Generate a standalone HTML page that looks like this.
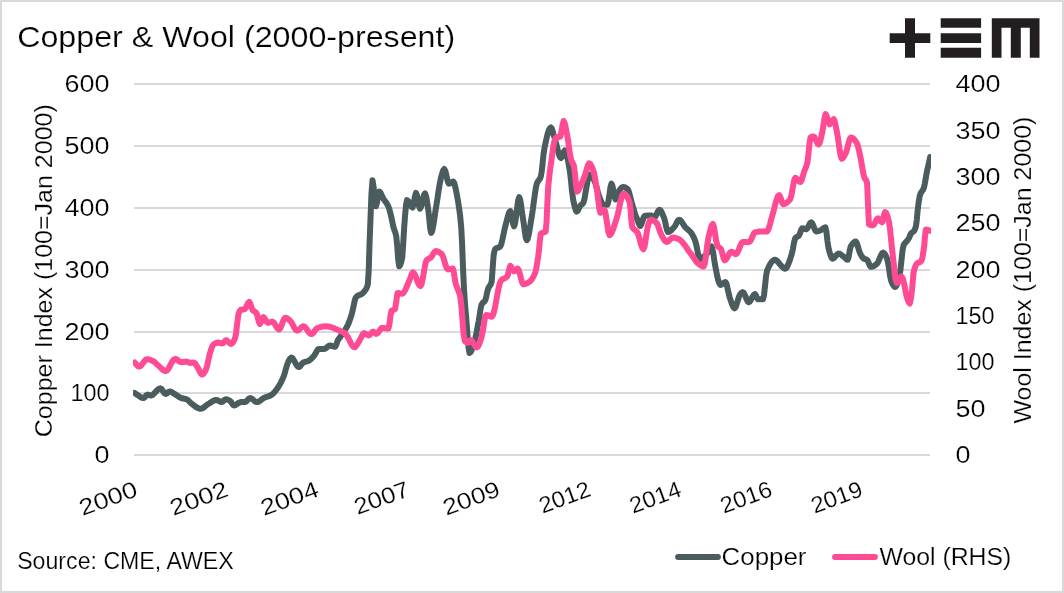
<!DOCTYPE html>
<html><head><meta charset="utf-8"><style>
html,body{margin:0;padding:0;background:#fff;}
svg{display:block;will-change:transform;}
text{font-family:"Liberation Sans", sans-serif;fill:#000;stroke:#fff;stroke-width:0.2px;}
.ax{font-size:23px;}
.title{font-size:29.5px;}
</style></head><body>
<svg width="1064" height="593" viewBox="0 0 1064 593">
<rect x="1" y="1" width="1062" height="591" fill="#fff" stroke="#d9d9d9" stroke-width="2"/>
<line x1="134" x2="930" y1="84.0" y2="84.0" stroke="#d9d9d9" stroke-width="2"/>
<line x1="134" x2="930" y1="146.0" y2="146.0" stroke="#d9d9d9" stroke-width="2"/>
<line x1="134" x2="930" y1="208.0" y2="208.0" stroke="#d9d9d9" stroke-width="2"/>
<line x1="134" x2="930" y1="270.0" y2="270.0" stroke="#d9d9d9" stroke-width="2"/>
<line x1="134" x2="930" y1="332.0" y2="332.0" stroke="#d9d9d9" stroke-width="2"/>
<line x1="134" x2="930" y1="393.0" y2="393.0" stroke="#d9d9d9" stroke-width="2"/>
<line x1="134" x2="930" y1="455.0" y2="455.0" stroke="#d9d9d9" stroke-width="2"/>
<text x="109.4" y="92.2" text-anchor="end" textLength="45.0" lengthAdjust="spacingAndGlyphs" class="ax">600</text>
<text x="109.4" y="154.2" text-anchor="end" textLength="45.0" lengthAdjust="spacingAndGlyphs" class="ax">500</text>
<text x="109.4" y="216.2" text-anchor="end" textLength="45.0" lengthAdjust="spacingAndGlyphs" class="ax">400</text>
<text x="109.4" y="278.2" text-anchor="end" textLength="45.0" lengthAdjust="spacingAndGlyphs" class="ax">300</text>
<text x="109.4" y="340.2" text-anchor="end" textLength="45.0" lengthAdjust="spacingAndGlyphs" class="ax">200</text>
<text x="109.4" y="401.2" text-anchor="end" textLength="39.0" lengthAdjust="spacingAndGlyphs" class="ax">100</text>
<text x="109.4" y="463.2" text-anchor="end" textLength="15.0" lengthAdjust="spacingAndGlyphs" class="ax">0</text>
<text x="955.4" y="92.2" textLength="45.0" lengthAdjust="spacingAndGlyphs" class="ax">400</text>
<text x="955.4" y="138.6" textLength="45.0" lengthAdjust="spacingAndGlyphs" class="ax">350</text>
<text x="955.4" y="184.9" textLength="45.0" lengthAdjust="spacingAndGlyphs" class="ax">300</text>
<text x="955.4" y="231.3" textLength="45.0" lengthAdjust="spacingAndGlyphs" class="ax">250</text>
<text x="955.4" y="277.7" textLength="45.0" lengthAdjust="spacingAndGlyphs" class="ax">200</text>
<text x="955.4" y="324.1" textLength="39.0" lengthAdjust="spacingAndGlyphs" class="ax">150</text>
<text x="955.4" y="370.4" textLength="39.0" lengthAdjust="spacingAndGlyphs" class="ax">100</text>
<text x="955.4" y="416.8" textLength="30.0" lengthAdjust="spacingAndGlyphs" class="ax">50</text>
<text x="955.4" y="463.2" textLength="15.0" lengthAdjust="spacingAndGlyphs" class="ax">0</text>
<text transform="translate(139.0,495.5) rotate(-20)" text-anchor="end" textLength="60.0" lengthAdjust="spacingAndGlyphs" class="ax">2000</text>
<text transform="translate(229.7,495.5) rotate(-20)" text-anchor="end" textLength="60.0" lengthAdjust="spacingAndGlyphs" class="ax">2002</text>
<text transform="translate(320.3,495.5) rotate(-20)" text-anchor="end" textLength="60.0" lengthAdjust="spacingAndGlyphs" class="ax">2004</text>
<text transform="translate(411.0,495.5) rotate(-20)" text-anchor="end" textLength="57.0" lengthAdjust="spacingAndGlyphs" class="ax">2007</text>
<text transform="translate(501.6,495.5) rotate(-20)" text-anchor="end" textLength="59.0" lengthAdjust="spacingAndGlyphs" class="ax">2009</text>
<text transform="translate(592.2,495.5) rotate(-20)" text-anchor="end" textLength="53.0" lengthAdjust="spacingAndGlyphs" class="ax">2012</text>
<text transform="translate(682.9,495.5) rotate(-20)" text-anchor="end" textLength="53.0" lengthAdjust="spacingAndGlyphs" class="ax">2014</text>
<text transform="translate(773.6,495.5) rotate(-20)" text-anchor="end" textLength="53.0" lengthAdjust="spacingAndGlyphs" class="ax">2016</text>
<text transform="translate(864.2,495.5) rotate(-20)" text-anchor="end" textLength="53.0" lengthAdjust="spacingAndGlyphs" class="ax">2019</text>
<text transform="translate(51.8,270.7) rotate(-90)" text-anchor="middle" textLength="333" lengthAdjust="spacingAndGlyphs" class="ax">Copper Index (100=Jan 2000)</text>
<text transform="translate(1031,270.1) rotate(-90)" text-anchor="middle" textLength="307" lengthAdjust="spacingAndGlyphs" class="ax">Wool Index (100=Jan 2000)</text>
<text x="17.2" y="46.6" textLength="438" lengthAdjust="spacingAndGlyphs" class="title">Copper &amp; Wool (2000-present)</text>
<text x="17.2" y="568.8" textLength="216.5" lengthAdjust="spacingAndGlyphs" class="ax">Source: CME, AWEX</text>
<line x1="678" x2="718" y1="557" y2="557" stroke="#4a5c5e" stroke-width="5.8" stroke-linecap="round"/>
<text x="721.5" y="564.6" textLength="85" lengthAdjust="spacingAndGlyphs" class="ax">Copper</text>
<line x1="835" x2="875" y1="557" y2="557" stroke="#ff4a94" stroke-width="5.8" stroke-linecap="round"/>
<text x="879.4" y="564.6" textLength="132" lengthAdjust="spacingAndGlyphs" class="ax">Wool (RHS)</text>
<defs><clipPath id="pc"><rect x="133" y="60" width="798" height="420"/></clipPath></defs><g clip-path="url(#pc)">
<polyline fill="none" stroke="#4a5c5e" stroke-width="6" stroke-linejoin="round" stroke-linecap="round" points="134.6,393.0 135.7,393.7 136.8,394.5 137.9,395.3 139.1,396.1 140.2,396.9 141.3,397.5 142.4,397.9 143.5,398.0 144.5,397.5 145.5,396.3 146.5,395.1 147.5,394.6 148.6,394.8 149.8,395.3 150.9,395.5 152.1,395.2 153.2,394.4 154.4,393.2 155.6,391.9 156.8,390.6 158.0,389.4 159.1,388.6 160.3,388.3 161.4,388.9 162.5,390.3 163.5,391.9 164.6,393.3 165.7,393.9 166.7,393.5 167.8,392.7 168.8,391.9 169.8,391.5 171.0,391.8 172.2,392.4 173.3,393.2 174.5,393.9 175.6,394.6 176.7,395.3 177.8,396.1 179.0,396.9 180.1,397.5 181.2,398.0 182.3,398.3 183.4,398.5 184.4,398.7 185.5,399.0 186.6,399.3 187.7,399.9 188.8,400.9 189.8,402.0 190.9,403.1 192.0,404.0 193.1,404.8 194.2,405.6 195.2,406.4 196.3,407.1 197.4,407.8 198.4,408.3 199.5,408.7 200.6,408.8 201.7,408.6 202.8,408.1 203.9,407.4 204.9,406.5 206.0,405.6 207.1,404.7 208.2,404.0 209.4,403.3 210.5,402.6 211.7,401.8 212.8,401.1 214.0,400.5 215.1,400.1 216.3,400.0 217.4,400.2 218.5,400.7 219.5,401.3 220.6,401.8 221.7,402.0 222.7,401.6 223.7,400.6 224.7,399.7 225.7,399.3 226.8,399.4 227.8,399.8 228.9,400.2 230.0,400.8 231.0,401.8 232.0,403.4 233.0,404.9 234.0,405.5 235.1,405.2 236.3,404.6 237.4,403.8 238.5,403.0 239.7,402.4 240.8,402.1 241.8,402.1 242.8,402.1 243.8,402.1 244.8,402.1 245.9,401.7 247.0,400.7 248.0,399.5 249.1,398.5 250.2,398.1 251.3,398.4 252.5,399.1 253.6,400.1 254.7,401.1 255.9,401.8 257.0,402.1 258.1,401.9 259.2,401.3 260.4,400.5 261.5,399.6 262.6,398.8 263.7,398.1 264.9,397.6 266.0,397.1 267.2,396.7 268.3,396.3 269.5,395.9 270.6,395.4 271.8,394.7 272.9,393.8 274.0,392.7 275.1,391.4 276.3,389.9 277.4,388.3 278.5,386.6 279.6,384.9 280.7,382.9 281.7,380.8 282.8,378.4 283.9,375.8 284.9,372.6 285.9,368.8 287.0,365.2 288.0,362.4 289.1,360.2 290.2,358.4 291.3,357.6 292.4,358.1 293.4,359.5 294.5,361.3 295.6,363.4 296.7,365.2 297.7,366.6 298.8,367.1 300.0,366.5 301.1,365.0 302.3,363.4 303.5,362.4 304.7,362.0 305.9,361.7 307.0,361.4 308.2,361.0 309.3,360.4 310.4,359.6 311.4,358.6 312.5,357.4 313.6,356.3 314.7,354.8 315.8,352.9 316.8,351.0 317.9,349.5 319.0,348.9 320.1,348.9 321.2,348.9 322.2,348.9 323.3,348.9 324.4,348.9 325.5,348.5 326.6,347.7 327.6,346.7 328.7,345.9 329.8,345.5 330.9,345.6 332.0,346.0 333.1,346.3 334.2,346.7 335.3,346.8 336.4,344.4 337.5,341.0 338.6,339.1 339.8,337.5 340.8,336.0 341.8,334.6 342.9,333.2 343.9,331.8 344.9,330.3 345.9,328.6 346.9,326.8 347.9,324.8 348.9,322.5 349.8,319.9 350.8,317.0 351.8,313.8 352.7,310.3 353.6,305.9 354.6,301.1 355.5,298.0 356.3,296.9 357.2,296.1 358.0,295.5 359.0,295.1 360.0,294.8 361.0,294.4 362.0,293.8 363.0,292.9 364.0,291.8 365.0,290.5 365.9,289.2 366.9,287.4 367.8,284.5 368.7,270.6 369.5,244.8 370.4,220.8 371.4,194.9 372.5,180.3 373.6,187.0 374.8,199.6 375.9,206.3 377.0,202.5 378.2,195.4 379.3,191.6 380.3,192.4 381.2,194.2 382.2,196.4 383.2,198.4 384.2,199.9 385.2,201.3 386.3,202.7 387.3,204.3 388.3,206.3 389.3,209.0 390.2,212.6 391.2,216.5 392.3,221.8 393.4,227.0 394.3,229.9 395.3,232.4 396.2,235.9 397.2,245.9 398.2,259.5 399.2,266.3 400.2,265.1 401.3,262.0 402.3,257.2 403.2,243.7 404.2,227.0 405.1,215.0 406.1,204.6 407.0,200.1 408.1,200.9 409.2,202.7 410.4,204.9 411.5,206.7 412.6,207.5 413.7,203.7 414.9,196.6 416.0,192.8 417.0,195.3 418.0,200.7 419.0,206.1 420.0,208.6 421.0,207.0 422.0,203.2 423.0,198.7 424.0,194.9 425.0,193.3 426.1,196.2 427.3,203.1 428.4,210.8 429.3,219.1 430.2,228.4 431.1,232.9 432.2,231.0 433.2,226.0 434.3,219.2 435.3,211.9 436.4,205.2 437.5,198.2 438.6,190.5 439.8,183.5 440.9,178.1 442.0,173.9 443.2,170.4 444.3,169.0 445.4,171.3 446.6,176.3 447.7,181.4 448.8,183.7 449.9,183.4 451.1,182.6 452.2,181.8 453.3,181.5 454.4,183.5 455.6,188.3 456.7,193.9 457.8,199.7 458.9,206.7 460.1,215.5 461.2,227.0 462.1,243.9 463.0,267.2 463.9,287.1 464.8,301.2 465.8,313.2 466.7,324.2 467.6,336.5 468.6,347.9 469.5,353.0 470.6,352.1 471.8,349.6 473.0,346.3 474.1,342.8 475.3,338.5 476.5,333.0 477.6,326.8 478.8,320.5 479.7,314.7 480.6,308.6 481.5,304.7 482.4,303.2 483.4,302.3 484.4,301.5 485.3,300.1 486.2,297.0 487.1,292.6 488.0,289.0 488.9,287.1 489.9,285.7 490.8,284.2 491.7,281.5 492.6,269.1 493.6,255.6 494.4,251.3 495.2,249.1 496.2,248.3 497.2,247.9 498.2,247.6 499.2,247.2 500.2,246.5 501.2,244.4 502.2,240.4 503.3,235.5 504.3,230.5 505.3,226.3 506.3,222.5 507.3,218.5 508.3,214.8 509.3,212.1 510.3,211.1 511.2,213.5 512.2,218.7 513.1,223.9 514.1,226.3 515.1,223.3 516.1,216.1 517.2,207.4 518.2,200.2 519.2,197.2 520.2,199.6 521.1,205.3 522.0,212.3 523.0,218.7 524.0,225.1 524.9,232.1 525.8,237.8 526.8,240.2 527.8,238.6 528.8,234.4 529.8,228.6 530.8,222.2 531.8,216.2 532.8,209.6 533.8,201.8 534.9,194.1 535.9,187.5 536.9,183.3 537.9,181.4 538.8,180.2 539.8,179.0 540.7,177.0 541.7,171.8 542.6,163.4 543.5,154.5 544.5,147.9 545.5,143.0 546.6,138.2 547.6,134.0 548.7,130.6 549.8,128.3 550.8,127.5 551.8,128.6 552.7,131.3 553.6,134.6 554.6,137.8 555.6,141.4 556.7,145.8 557.8,150.2 558.8,154.1 559.9,156.9 560.9,158.0 561.9,156.8 562.8,154.2 563.8,151.7 564.7,150.5 565.7,151.7 566.7,154.9 567.8,159.5 568.8,164.9 569.8,170.7 570.9,179.4 571.9,190.4 573.0,198.7 573.9,203.3 574.9,207.5 575.8,210.5 576.7,211.6 577.7,210.9 578.6,209.1 579.5,207.1 580.5,205.5 581.5,204.6 582.5,203.8 583.5,202.5 584.5,198.7 585.5,192.7 586.5,187.0 587.5,181.7 588.6,176.7 589.6,174.5 590.8,175.0 592.0,176.4 593.1,178.4 594.3,180.5 595.3,183.0 596.3,186.3 597.3,190.1 598.3,193.7 599.3,196.7 600.3,199.4 601.3,202.0 602.4,204.0 603.4,204.8 604.4,204.8 605.4,204.8 606.4,204.8 607.4,204.8 608.4,201.5 609.5,194.2 610.5,186.8 611.5,183.5 612.5,186.0 613.5,191.5 614.5,197.0 615.5,199.5 616.5,198.3 617.5,195.4 618.5,192.2 619.5,190.0 620.7,188.5 621.8,187.4 623.0,186.9 624.2,187.1 625.4,187.6 626.6,188.4 627.8,189.4 628.7,191.2 629.6,194.4 630.6,198.2 631.5,201.7 632.6,205.6 633.7,209.5 634.8,213.0 635.7,215.5 636.6,217.8 637.5,220.0 638.4,222.5 639.4,224.9 640.3,225.9 641.4,224.4 642.5,221.1 643.5,217.7 644.6,216.0 645.6,215.8 646.7,215.7 647.7,215.5 648.7,215.5 649.8,215.4 650.8,215.4 651.7,215.7 652.6,216.3 653.6,216.9 654.5,217.2 655.5,216.4 656.5,214.6 657.4,212.4 658.4,210.6 659.4,209.8 660.4,210.3 661.4,211.7 662.3,213.7 663.3,216.1 664.3,218.5 665.2,221.9 666.1,226.4 667.1,230.3 668.0,232.0 669.0,231.8 670.1,231.2 671.1,230.4 672.1,229.3 673.2,228.2 674.2,227.1 675.2,225.7 676.2,223.8 677.1,221.8 678.1,220.3 679.1,219.7 680.1,220.1 681.1,221.1 682.2,222.6 683.2,224.2 684.2,225.8 685.2,227.1 686.2,228.1 687.3,229.1 688.3,229.9 689.3,230.9 690.4,231.9 691.4,233.2 692.3,234.6 693.2,236.3 694.2,238.3 695.1,240.6 696.1,244.1 697.1,248.9 698.0,253.8 699.0,257.6 700.0,259.1 700.9,258.8 701.9,258.2 702.8,257.4 703.7,256.6 704.6,256.0 705.4,255.4 706.3,254.6 707.3,253.1 708.3,251.0 709.4,248.9 710.4,247.2 711.4,246.5 712.4,248.8 713.4,254.2 714.4,260.9 715.4,266.8 716.4,272.0 717.4,277.1 718.4,280.9 719.5,283.7 720.5,285.0 721.5,284.7 722.5,283.9 723.5,283.1 724.5,282.3 725.5,282.0 726.5,283.8 727.5,288.1 728.6,293.1 729.6,297.1 730.6,300.1 731.6,303.1 732.6,305.7 733.6,307.6 734.6,308.3 735.6,307.2 736.6,304.3 737.7,300.8 738.7,297.4 739.7,295.1 740.7,293.7 741.7,292.6 742.7,292.1 743.7,292.8 744.7,294.7 745.8,297.1 746.8,299.6 747.8,301.5 748.8,302.2 749.8,301.6 750.8,300.1 751.8,298.1 752.9,296.2 753.9,294.7 754.9,294.1 755.9,295.4 756.9,297.9 757.9,299.2 758.9,299.2 759.9,299.2 761.0,299.2 762.0,299.2 763.0,299.2 764.0,295.2 765.0,286.2 766.0,276.6 767.0,270.8 768.2,268.1 769.3,265.7 770.5,263.6 771.6,262.0 772.8,260.7 773.9,260.0 775.1,259.7 776.1,260.0 777.1,260.9 778.2,262.1 779.2,263.5 780.2,264.7 781.2,265.8 782.2,266.7 783.2,267.7 784.2,268.5 785.2,268.8 786.2,268.2 787.2,266.6 788.3,264.2 789.3,261.5 790.3,258.7 791.2,255.9 792.1,252.4 793.0,248.6 794.0,242.8 795.1,238.4 796.1,237.4 797.1,236.8 798.1,236.3 799.1,235.4 800.1,233.0 801.1,229.9 802.1,228.3 803.1,228.5 804.2,228.8 805.2,229.1 806.2,229.3 807.2,228.6 808.2,226.8 809.2,224.8 810.2,223.0 811.2,222.3 812.2,223.2 813.2,225.5 814.3,228.2 815.3,230.5 816.3,231.4 817.3,231.3 818.3,231.1 819.4,230.8 820.4,230.4 821.4,229.9 822.4,229.1 823.4,228.2 824.4,227.6 825.4,227.3 826.4,231.7 827.4,240.6 828.4,247.6 829.4,251.6 830.5,255.2 831.5,257.7 832.5,258.7 833.5,258.3 834.5,257.4 835.5,256.1 836.6,254.9 837.6,254.0 838.6,253.6 839.6,253.8 840.6,254.4 841.6,255.1 842.6,255.9 843.6,256.7 844.6,257.6 845.7,258.5 846.7,259.4 847.7,259.7 848.7,256.7 849.7,250.7 850.7,246.5 851.7,244.9 852.7,243.5 853.8,242.4 854.8,241.7 855.8,241.5 856.8,242.9 857.8,246.1 858.8,249.8 859.8,252.6 860.8,254.6 861.8,256.4 862.9,257.8 863.9,258.7 864.9,259.1 865.9,259.3 866.9,259.7 867.9,261.1 868.9,263.5 869.9,265.8 870.9,266.8 871.9,266.7 872.9,266.4 874.0,265.9 875.0,265.2 876.0,264.5 877.0,263.7 878.0,262.3 879.0,260.1 880.0,257.5 881.1,255.1 882.1,253.3 883.1,252.6 884.1,253.1 885.1,254.5 886.1,256.4 887.1,258.7 888.1,263.1 889.2,269.8 890.2,276.5 891.2,280.9 892.2,283.2 893.2,285.1 894.2,286.5 895.2,287.0 896.2,286.1 897.2,283.8 898.3,280.6 899.3,276.9 900.4,270.1 901.5,260.2 902.5,250.7 903.6,245.2 904.6,243.6 905.5,242.6 906.5,241.5 907.3,240.4 908.2,239.3 909.0,238.0 910.0,235.6 911.0,233.5 912.0,232.6 913.0,231.9 914.0,231.0 915.0,229.2 916.0,226.0 916.8,219.8 917.5,212.0 918.6,202.5 919.8,195.7 920.8,193.0 921.9,191.4 923.0,189.8 924.0,187.3 924.8,183.6 925.7,178.6 926.5,173.8 927.4,169.4 928.4,165.2 929.3,161.1 930.2,157.0"/>
<polyline fill="none" stroke="#ff4a94" stroke-width="6" stroke-linejoin="round" stroke-linecap="round" points="134.6,362.5 135.8,363.7 136.9,365.1 138.0,366.2 139.2,366.6 140.3,366.2 141.4,365.1 142.5,363.7 143.7,362.1 144.8,360.7 145.9,359.6 147.0,359.2 148.2,359.3 149.4,359.6 150.5,359.9 151.7,360.4 152.9,360.9 154.0,361.6 155.1,362.5 156.1,363.6 157.2,364.6 158.3,365.6 159.4,366.5 160.4,367.5 161.5,368.6 162.5,369.5 163.6,370.3 164.6,370.8 165.7,371.0 166.9,370.5 168.1,369.1 169.3,367.2 170.4,364.9 171.6,362.7 172.8,360.8 174.0,359.4 175.2,358.9 176.4,359.2 177.6,360.1 178.8,361.0 180.0,361.9 181.2,362.2 182.3,362.1 183.4,362.0 184.4,361.8 185.5,361.7 186.6,361.6 187.7,361.9 188.9,362.6 190.0,362.9 190.9,362.8 191.8,362.7 192.8,362.6 193.7,362.5 194.6,363.0 195.6,364.2 196.5,365.7 197.4,367.1 198.6,369.2 199.8,371.6 200.9,373.6 202.1,374.5 203.1,374.0 204.1,372.8 205.2,371.1 206.2,369.0 207.3,365.2 208.4,359.8 209.5,355.0 210.4,351.8 211.3,348.7 212.3,346.3 213.2,344.8 214.3,343.9 215.5,343.2 216.7,342.7 217.8,342.5 219.0,342.7 220.2,343.0 221.3,343.3 222.5,343.5 223.4,343.0 224.3,341.9 225.3,340.7 226.2,340.2 227.3,340.8 228.5,342.0 229.7,343.3 230.8,343.9 231.9,343.5 233.1,342.2 234.2,340.1 235.3,337.4 236.2,332.2 237.0,325.0 237.8,318.7 238.5,314.0 239.3,311.9 240.1,310.5 240.9,309.8 241.8,309.6 242.8,309.5 243.7,309.4 244.6,309.2 245.8,307.9 246.9,305.4 248.0,303.0 249.2,301.9 250.3,303.6 251.4,307.1 252.5,309.8 253.5,310.8 254.5,311.5 255.5,312.1 256.5,313.2 257.6,316.7 258.8,321.5 259.9,323.9 261.0,322.1 262.2,318.9 263.3,317.1 264.4,318.0 265.6,320.0 266.7,321.9 267.8,322.8 268.9,322.6 270.1,322.2 271.2,321.8 272.3,321.6 273.4,322.2 274.6,323.6 275.7,325.6 276.8,327.5 278.0,328.9 279.1,329.5 280.1,328.6 281.2,326.4 282.2,323.6 283.2,320.8 284.3,318.6 285.3,317.7 286.3,317.9 287.3,318.5 288.4,319.2 289.4,320.2 290.4,321.1 291.5,322.5 292.7,324.5 293.8,326.7 294.9,328.7 296.1,330.1 297.2,330.7 298.2,330.4 299.3,329.5 300.3,328.4 301.3,327.4 302.4,326.5 303.4,326.2 304.5,326.6 305.7,327.8 306.8,329.3 307.9,331.0 309.0,332.5 310.2,333.7 311.3,334.1 312.3,333.7 313.4,332.6 314.4,331.3 315.4,329.8 316.5,328.6 317.5,327.9 318.6,327.6 319.6,327.3 320.7,327.0 321.8,326.7 322.9,326.6 324.0,326.4 325.0,326.3 326.1,326.3 327.2,326.4 328.4,326.5 329.5,326.7 330.7,327.0 331.8,327.4 333.0,327.8 334.1,328.3 335.2,328.8 336.4,329.3 337.5,329.8 338.7,330.3 339.8,330.8 340.9,331.3 342.0,331.8 343.1,332.3 344.2,332.9 345.3,333.7 346.4,334.9 347.6,336.8 348.8,339.0 349.9,341.3 351.1,343.5 352.2,345.4 353.4,346.7 354.5,347.2 355.5,346.7 356.5,345.5 357.6,343.9 358.6,342.1 359.6,340.4 360.7,338.3 361.9,335.9 363.0,333.9 364.1,333.1 365.2,333.5 366.4,334.2 367.5,335.0 368.6,335.4 369.8,334.8 370.9,333.5 372.1,332.2 373.2,331.6 374.2,332.2 375.2,333.3 376.2,333.9 377.2,333.4 378.2,332.3 379.2,330.9 380.3,329.4 381.3,328.3 382.3,327.8 383.3,327.9 384.3,328.0 385.4,328.2 386.4,328.4 387.4,328.5 388.4,328.6 389.4,324.3 390.4,316.1 391.4,311.1 392.3,310.3 393.3,310.0 394.2,309.6 395.2,308.8 396.4,300.5 397.5,292.9 398.6,293.0 399.8,293.3 400.9,293.6 402.0,293.7 403.1,293.2 404.2,291.9 405.3,289.9 406.3,287.6 407.4,285.0 408.5,282.4 409.6,280.0 410.7,277.0 411.8,273.9 412.9,272.4 414.0,273.2 415.1,275.1 416.2,277.8 417.2,280.7 418.3,283.4 419.4,285.3 420.5,286.1 421.5,284.3 422.5,279.9 423.6,274.0 424.6,267.9 425.6,262.9 426.6,260.2 427.7,259.2 428.9,258.6 430.0,258.0 431.1,257.2 432.2,255.7 433.4,253.6 434.6,251.9 435.7,251.1 436.7,251.2 437.7,251.5 438.8,252.0 439.8,252.6 440.8,253.4 441.8,254.2 443.0,256.4 444.2,260.3 445.4,264.5 446.6,268.0 447.8,269.4 448.8,269.3 449.8,269.1 450.8,268.9 451.8,268.7 452.8,268.6 453.7,271.7 454.7,278.0 455.6,283.4 456.8,286.9 457.9,289.6 459.1,292.4 460.2,296.4 461.4,305.9 462.5,320.5 463.6,334.1 464.8,340.9 465.7,341.9 466.7,342.6 467.6,342.8 468.5,342.1 469.5,340.7 470.4,340.0 471.5,340.5 472.6,341.9 473.6,343.7 474.7,345.5 475.8,346.9 476.9,347.4 478.0,346.5 479.2,344.0 480.4,340.7 481.5,337.2 482.7,331.7 483.9,324.3 485.0,317.7 486.2,314.9 487.3,315.1 488.4,315.6 489.5,316.1 490.6,316.6 491.7,316.8 492.9,315.4 494.0,311.6 495.2,306.3 496.4,300.0 497.5,293.6 498.7,287.8 499.8,283.2 501.0,280.6 502.1,279.6 503.2,278.9 504.2,278.4 505.3,277.9 506.4,277.1 507.5,276.0 508.4,272.8 509.4,268.2 510.3,265.8 511.2,266.7 512.1,268.6 513.1,270.4 514.0,271.3 514.9,270.9 515.9,270.0 516.8,269.0 517.7,268.6 518.8,270.2 519.9,274.1 521.1,278.8 522.2,282.7 523.3,284.3 524.4,284.2 525.5,283.9 526.5,283.5 527.6,282.9 528.7,282.2 529.8,281.5 530.9,280.5 532.0,279.1 533.1,277.3 534.2,275.0 535.3,272.3 536.2,268.7 537.1,263.4 538.1,257.0 539.0,250.0 539.9,240.6 540.7,233.9 541.7,233.1 542.7,232.7 543.7,232.5 544.7,232.2 545.7,231.4 546.6,221.3 547.4,201.8 548.3,185.9 549.4,175.6 550.4,167.5 551.5,160.0 552.4,152.8 553.4,146.0 554.3,141.5 555.1,139.3 556.0,137.7 556.8,137.0 557.9,136.9 559.1,136.9 560.2,136.8 561.3,132.6 562.5,125.1 563.6,121.0 564.5,122.4 565.4,126.0 566.3,130.6 567.2,135.3 568.2,141.1 569.1,148.0 570.0,154.6 571.0,159.3 572.0,161.8 573.0,163.6 574.0,166.3 575.0,174.5 576.1,185.9 577.1,191.6 578.1,190.9 579.1,189.1 580.1,186.8 581.1,184.5 582.1,182.2 583.2,179.7 584.2,177.1 585.2,174.4 586.2,171.2 587.2,167.5 588.2,164.5 589.2,163.3 590.2,163.9 591.2,165.5 592.3,167.8 593.3,170.4 594.3,174.2 595.3,179.8 596.3,186.2 597.3,192.6 598.3,200.6 599.4,208.9 600.4,212.8 601.4,212.3 602.4,211.3 603.4,210.3 604.4,209.8 605.4,212.4 606.4,218.7 607.5,226.2 608.5,232.5 609.5,235.1 610.7,234.4 611.8,232.4 613.0,229.5 614.2,226.0 615.3,222.4 616.5,218.9 617.7,214.7 618.9,209.4 620.0,203.8 621.2,198.7 622.4,195.0 623.6,193.6 624.6,193.9 625.6,194.7 626.7,196.0 627.7,197.8 628.7,200.0 629.7,202.7 630.6,209.7 631.4,220.6 632.3,227.1 633.3,228.6 634.3,229.5 635.2,230.2 636.2,230.9 637.2,232.0 638.2,234.3 639.3,237.8 640.3,241.7 641.3,245.4 642.4,248.1 643.4,249.2 644.4,247.1 645.4,241.8 646.3,235.2 647.3,228.8 648.3,224.6 649.1,222.3 650.0,220.5 650.8,219.7 651.8,219.8 652.8,220.2 653.8,220.8 654.9,221.5 655.9,222.4 656.9,223.4 657.8,225.1 658.8,227.9 659.7,230.9 660.6,233.2 661.6,235.2 662.7,237.2 663.7,239.0 664.7,240.5 665.8,241.5 666.8,241.9 667.8,241.6 668.8,240.8 669.8,239.7 670.9,238.6 671.9,237.8 672.9,237.5 673.9,237.6 675.0,237.8 676.0,238.1 677.0,238.5 678.1,238.9 679.1,239.4 680.2,240.1 681.3,241.0 682.4,242.2 683.5,243.6 684.7,245.1 685.8,246.6 686.9,248.3 688.0,249.9 689.1,251.4 690.2,252.9 691.3,254.3 692.4,255.9 693.4,257.5 694.5,259.0 695.6,260.5 696.6,261.9 697.7,263.1 698.8,264.0 699.8,264.7 700.8,265.4 701.7,266.0 702.7,266.4 703.7,266.5 704.7,264.0 705.7,258.0 706.6,250.1 707.6,242.5 708.6,236.9 709.7,232.5 710.8,228.3 711.8,225.2 712.9,224.0 714.0,227.0 715.1,233.9 716.2,241.1 717.3,245.5 718.2,246.7 719.1,247.4 720.1,248.1 721.0,249.2 721.9,251.7 722.8,255.4 723.7,258.8 724.6,260.3 725.7,259.7 726.9,258.1 728.0,256.0 729.1,253.9 730.3,252.3 731.4,251.7 732.5,252.1 733.5,252.9 734.6,253.8 735.7,254.2 736.8,253.5 737.8,251.8 738.9,249.4 739.9,246.7 741.0,244.3 742.0,242.6 743.1,241.9 744.1,241.9 745.2,241.9 746.2,241.9 747.2,241.9 748.3,241.9 749.3,241.9 750.4,241.0 751.5,238.7 752.7,236.0 753.8,233.6 754.9,232.4 756.1,232.1 757.2,231.9 758.4,231.7 759.6,231.5 760.7,231.4 761.9,231.4 762.9,231.4 763.9,231.4 765.0,231.4 766.0,231.4 767.0,231.4 768.0,230.3 769.0,227.5 770.1,223.8 771.1,219.7 772.1,216.2 773.3,212.2 774.4,207.6 775.6,203.0 776.8,199.0 777.9,196.2 779.1,195.1 780.1,196.5 781.2,199.6 782.2,202.8 783.2,204.2 784.4,204.0 785.5,203.6 786.7,202.8 787.9,201.8 789.0,200.6 790.2,199.2 791.2,196.2 792.2,190.8 793.3,184.8 794.3,179.9 795.3,177.9 796.3,178.3 797.3,179.3 798.4,180.6 799.4,181.6 800.4,182.0 801.4,180.8 802.4,177.8 803.4,174.1 804.4,170.8 805.4,168.4 806.4,166.0 807.4,162.7 808.4,154.4 809.5,143.3 810.5,137.4 811.5,136.9 812.5,136.5 813.5,136.4 814.5,137.2 815.5,139.3 816.6,141.6 817.6,143.7 818.6,144.5 819.6,143.1 820.6,139.6 821.6,135.0 822.6,130.4 823.6,124.3 824.6,117.4 825.6,114.2 826.6,115.8 827.7,119.2 828.7,122.7 829.7,124.3 830.7,123.5 831.7,121.8 832.7,120.0 833.7,119.2 834.7,121.3 835.8,126.2 836.8,131.4 837.8,137.1 838.8,144.3 839.8,151.3 840.8,156.6 841.8,158.7 842.8,158.1 843.8,156.7 844.9,154.7 845.9,152.6 846.9,149.8 847.9,145.8 848.9,141.8 849.9,138.7 850.9,137.4 851.9,137.6 852.9,138.2 854.0,139.2 855.0,140.4 856.0,141.9 857.0,143.5 858.0,146.2 859.0,150.5 860.1,155.6 861.1,160.7 862.1,166.4 863.1,172.4 864.1,176.9 865.1,178.9 866.1,180.3 867.1,183.0 868.0,204.4 868.9,224.3 869.9,224.8 871.0,225.1 872.0,225.3 873.0,225.3 874.0,224.6 875.0,222.8 876.0,220.7 877.0,218.9 878.0,218.2 879.0,218.8 880.0,220.2 881.1,221.7 882.1,222.3 883.1,219.7 884.1,214.7 885.1,212.1 886.1,212.9 887.1,215.2 888.1,218.4 889.1,222.3 890.1,229.7 891.2,240.5 892.2,250.6 893.4,260.8 894.5,271.4 895.6,279.7 896.8,283.0 897.9,281.9 899.0,280.0 899.8,278.6 900.7,277.2 901.5,276.5 902.3,277.5 903.2,280.0 904.0,283.0 904.8,287.1 905.7,292.1 906.5,296.0 907.6,299.5 908.7,302.3 909.8,303.5 910.9,298.9 912.0,290.0 912.8,280.5 913.6,272.4 914.7,268.1 915.8,265.2 916.9,263.6 918.0,262.8 919.1,262.4 920.2,261.9 921.3,261.0 922.3,258.2 923.2,252.7 924.2,246.0 925.0,236.4 925.8,229.6 926.9,229.7 928.0,230.0 929.1,230.4 930.2,230.8"/>
</g>
<g fill="#231f20">
<path d="M905,18.3H915V33.2H930.3V42.9H915V57.7H905V42.9H889.7V33.2H905Z"/>
<path d="M940.7,18.3H981.1V27.8H940.7Z M940.7,33.2H981.1V42.9H940.7Z M940.7,47.8H981.1V57.7H940.7Z"/>
<path d="M991.8,18.3H1039.5V57.7H1029.8V27.8H1020.8V57.7H1010.8V27.8H1001.5V57.7H991.8Z"/>
</g>
</svg></body></html>
